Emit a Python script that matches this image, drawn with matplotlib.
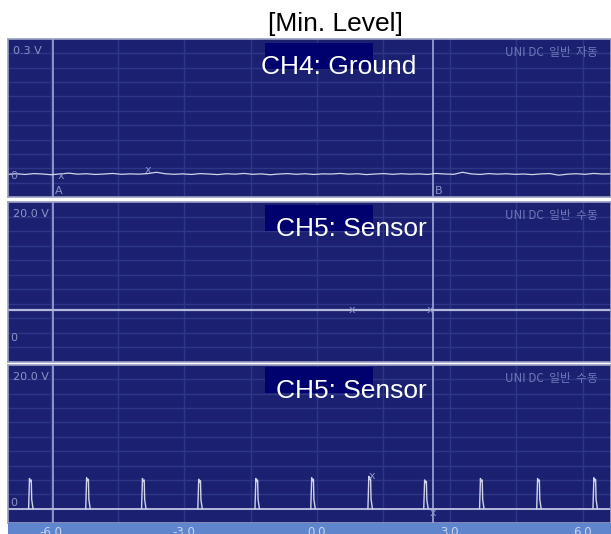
import matplotlib.pyplot as plt
import numpy as np

# ---- data ----
time_ticks = [-6.0, -3.0, 0.0, 3.0, 6.0]
tick_labels = ['-6.0', '-3.0', '0.0', '3.0', '6.0']
grid_x = [-6.0, -4.5, -3.0, -1.5, 0.0, 1.5, 3.0, 4.5, 6.0]
cursor_a = -5.96
cursor_b = 2.62

# CH4 ground trace (divisions), small noise around the zero level
ch4_t = np.linspace(-6.98, 6.64, 70)
ch4_v = [1.58, 1.62, 1.57, 1.63, 1.60, 1.55, 1.61, 1.66, 1.59, 1.62,
         1.57, 1.60, 1.64, 1.58, 1.61, 1.59, 1.63, 1.72, 1.62, 1.58,
         1.61, 1.57, 1.63, 1.60, 1.56, 1.62, 1.59, 1.64, 1.58, 1.61,
         1.55, 1.60, 1.63, 1.58, 1.62, 1.57, 1.61, 1.60, 1.64, 1.59,
         1.62, 1.56, 1.60, 1.63, 1.58, 1.62, 1.59, 1.61, 1.57, 1.64,
         1.60, 1.58, 1.72, 1.61, 1.57, 1.63, 1.59, 1.62, 1.58, 1.60,
         1.56, 1.61, 1.63, 1.52, 1.59, 1.62, 1.58, 1.64, 1.60, 1.61]

# CH5 (middle) flat level
ch5_level = 3.6

# CH5 (bottom) pulse train
pulse_t = [-6.46, -5.17, -3.91, -2.64, -1.35, -0.09, 1.20, 2.46, 3.72, 5.01, 6.28]
pulse_h = [2.10, 2.15, 2.10, 2.05, 2.10, 2.15, 2.25, 2.00, 2.10, 2.10, 2.15]
pulse_base = 1.0

# ---- styles ----
W, H = 611, 534
BG = '#1b2170'
GRID = '#2e3688'
CURSOR = '#959dd0'
TRACE = '#d0d4ea'
LABEL = '#8c94c8'
X0, X1 = -6.975, 6.637

fig = plt.figure(figsize=(W / 100, H / 100), dpi=100)
fig.patch.set_facecolor('white')


def add_px_axes(x0, y0, x1, y1):
    return fig.add_axes([x0 / W, 1 - y1 / H, (x1 - x0) / W, (y1 - y0) / H])


def scope_panel(y0, y1, vlabel, mode):
    ax = add_px_axes(8, y0, 611, y1)
    ax.set_facecolor(BG)
    ax.set_xlim(X0, X1)
    ax.set_ylim(0, 11)
    ax.set_xticks([])
    ax.set_yticks([])
    for s in ax.spines.values():
        s.set_color('#9aa0c4')
        s.set_linewidth(1.2)
    for k in range(1, 11):
        ax.axhline(k, color=GRID, lw=1)
    for gx in grid_x:
        ax.axvline(gx, color=GRID, lw=1)
    ax.axvline(cursor_a, color=CURSOR, lw=1.3)
    ax.axvline(cursor_b, color=CURSOR, lw=1.3)
    ax.text(0.008, 0.955, vlabel, transform=ax.transAxes, fontsize=8,
            color=LABEL, va='top', ha='left')
    ax.text(0.824, 0.955, 'UNI DC  일반  ' + mode, transform=ax.transAxes,
            fontsize=8.5, color='#6f78b8', va='top', ha='left',
            family=['Noto Sans CJK KR', 'DejaVu Sans'], clip_on=True)
    return ax


# top: CH4
ax1 = scope_panel(39, 197, '0.3 V', '자동')
ax1.plot(ch4_t, ch4_v, color=TRACE, lw=0.9)
ax1.text(-6.93, 1.45, '0', fontsize=8, color=LABEL, va='center')
ax1.text(-3.82, 1.9, 'x', fontsize=8, color=LABEL, ha='center', va='center')
ax1.text(cursor_a + 0.1, 1.45, 'x', fontsize=8, color=LABEL, ha='left', va='center')
ax1.text(cursor_a + 0.05, 0.45, 'A', fontsize=8, color=LABEL, ha='left', va='center')
ax1.text(cursor_b + 0.05, 0.45, 'B', fontsize=8, color=LABEL, ha='left', va='center')

# middle: CH5 flat
ax2 = scope_panel(202, 362, '20.0 V', '수동')
ax2.axhline(ch5_level, color='#b4b9dc', lw=1.6)
ax2.text(-6.93, 1.65, '0', fontsize=8, color=LABEL, va='center')
ax2.text(0.79, ch5_level, 'x', fontsize=8, color=LABEL, ha='center', va='center')
ax2.text(2.55, ch5_level, 'x', fontsize=8, color=LABEL, ha='center', va='center')

# bottom: CH5 pulses
ax3 = scope_panel(365, 523, '20.0 V', '수동')
ax3.axhline(pulse_base, color='#b4b9dc', lw=1.4)
for t, h in zip(pulse_t, pulse_h):
    xs = [t - 0.05, t - 0.03, t - 0.02, t + 0.01, t + 0.02, t + 0.05]
    ys = [pulse_base, pulse_base + h, pulse_base + h * 0.9,
          pulse_base + h * 0.95, pulse_base + h * 0.3, pulse_base]
    ax3.plot(xs, ys, color=TRACE, lw=1.0)
ax3.text(-6.93, 1.4, '0', fontsize=8, color=LABEL, va='center')
ax3.text(1.24, 3.3, 'x', fontsize=8, color=LABEL, ha='center', va='center')
ax3.text(cursor_b, 0.7, 'x', fontsize=8, color=LABEL, ha='center', va='center')

# time axis strip
axs = add_px_axes(8, 523, 611, 534)
axs.set_facecolor('#5f86cc')
axs.set_xlim(X0, X1)
axs.set_ylim(0, 1)
axs.set_xticks([])
axs.set_yticks([])
for s in axs.spines.values():
    s.set_visible(False)
for t, lab in zip(time_ticks, tick_labels):
    axs.text(t, 0.7, lab, fontsize=8.5, color='#c9d5f2', ha='center', va='top',
             clip_on=True)

# overlay captions
for y0, y1 in [(43, 69), (205, 231), (367, 393)]:
    box = add_px_axes(265, y0, 373, y1)
    box.set_facecolor('#00006e')
    box.set_xticks([])
    box.set_yticks([])
    for s in box.spines.values():
        s.set_visible(False)

cap_font = dict(family='Liberation Sans', fontsize=19, ha='center', va='center')
fig.text(335 / W, 1 - 24 / H, '[Min. Level]', color='black', **cap_font)
fig.text(339 / W, 1 - 67 / H, 'CH4: Ground', color='white', **cap_font)
fig.text(351 / W, 1 - 229 / H, 'CH5: Sensor', color='white', **cap_font)
fig.text(351 / W, 1 - 391 / H, 'CH5: Sensor', color='white', **cap_font)

fig.savefig('out.png', dpi=100)
